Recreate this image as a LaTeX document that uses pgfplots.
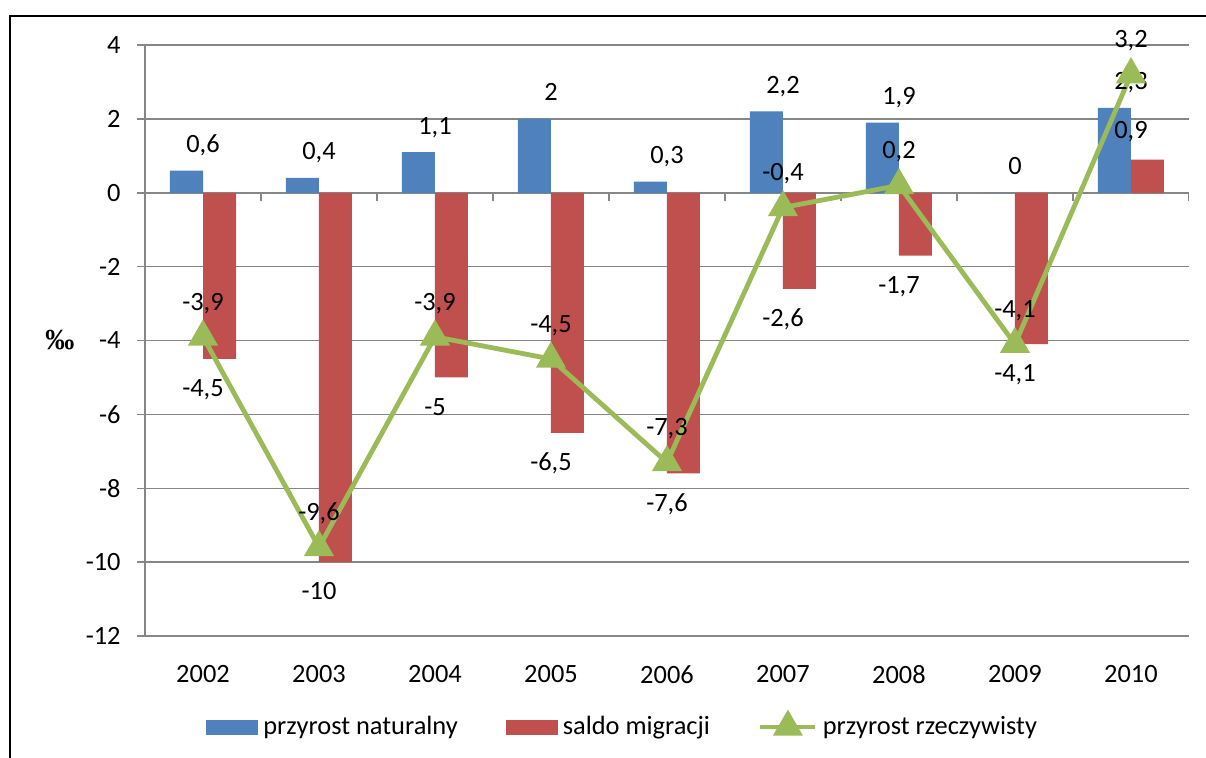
\documentclass[border=0pt]{standalone}
\usepackage{fontspec}
\setmainfont{Carlito}
\newfontfamily\permilfont{Liberation Serif}
\usepackage{pgfplots}
\pgfplotsset{compat=1.18}

\definecolor{barblue}{RGB}{79,129,189}
\definecolor{barred}{RGB}{192,80,77}
\definecolor{linegreen}{RGB}{155,187,89}
\definecolor{gridgray}{RGB}{134,134,134}

\pgfplotsset{
  barlegend/.style={legend image code/.code={\fill[##1] (0pt,-3.75pt) rectangle (26pt,3.75pt);}},
  linelegend/.style={legend image code/.code={\draw[##1, mark repeat=2, mark phase=2] plot coordinates {(0pt,0pt) (13.75pt,0pt) (27.5pt,0pt)};}},
}

\begin{document}
\begin{tikzpicture}[font=\fontsize{13.2}{15.8}\selectfont]
\useasboundingbox (0,0) rectangle (603pt,378.5pt);
% outer chart frame (cut off at right and bottom)
\draw[line width=0.8pt] (5pt,-20pt) -- (5pt,370.5pt) -- (640pt,370.5pt);
\begin{axis}[
  at={(72.5pt,60.5pt)}, anchor=south west,
  scale only axis, width=522pt, height=295.5pt,
  xmin=-0.5, xmax=8.5, ymin=-12, ymax=4,
  xtick={0,1,2,3,4,5,6,7,8},
  xticklabels={2002,2003,2004,2005,2006,2007,2008,2009,2010},
  ytick={-12,-10,-8,-6,-4,-2,0,2,4},
  axis lines*=left,
  x axis line style={draw=none},
  y axis line style={gridgray, line width=0.75pt},
  ymajorgrids,
  grid style={gridgray, line width=0.75pt},
  tick align=outside,
  major tick length=4pt,
  xtick style={draw=none},
  ytick style={gridgray, line width=0.75pt},
  /pgf/number format/.cd, use comma, 1000 sep={}, assume math mode=true,
  /pgfplots/.cd,
  xticklabel style={anchor=north, inner sep=0pt, yshift=-10.5pt},
  yticklabel style={anchor=east, inner sep=0pt, xshift=-8pt},
  ylabel={{\permilfont\bfseries\fontsize{14.5}{16}\selectfont ‰}},
  ylabel style={rotate=-90, at={(axis description cs:0,0.5)}, anchor=center, xshift=-42.5pt},
  legend columns=3,
  legend style={at={(0.0584,-0.154)}, anchor=west, draw=none, fill=none,
    inner sep=0pt, nodes={inner sep=1pt},
    /tikz/every odd column/.append style={column sep=1.5pt},
    /tikz/every even column/.append style={column sep=23pt}},
]
\addplot[ybar, bar width=16.5pt, bar shift=-8.25pt, fill=barblue, draw=none, barlegend,
  nodes near coords,
  every node near coord/.append style={inner sep=0pt, outer sep=9pt, text height=8.4pt, text depth=0pt}]
coordinates {(0,0.6) (1,0.4) (2,1.1) (3,2) (4,0.3) (5,2.2) (6,1.9) (7,0) (8,2.3)};
\addlegendentry{przyrost naturalny}
\addplot[ybar, bar width=16.5pt, bar shift=8.25pt, fill=barred, draw=none, barlegend,
  nodes near coords,
  every node near coord/.append style={inner sep=0pt, outer sep=10.5pt, text height=8.4pt, text depth=0pt}]
coordinates {(0,-4.5) (1,-10) (2,-5) (3,-6.5) (4,-7.6) (5,-2.6) (6,-1.7) (7,-4.1) (8,0.9)};
\addlegendentry{saldo migracji}
% boundary ticks on the zero line
\pgfplotsinvokeforeach{-0.5,0.5,1.5,2.5,3.5,4.5,5.5,6.5,7.5,8.5}{
  \draw[gridgray, line width=0.75pt] (axis cs:#1,0) -- ++(0pt,-4pt);
}
\addplot[linegreen, line width=2.4pt, mark=triangle*, mark size=6.3pt,
  mark options={solid}, linelegend,
  nodes near coords,
  every node near coord/.append style={black, anchor=center, yshift=17.5pt, inner sep=0pt, text height=8.4pt, text depth=0pt}]
coordinates {(0,-3.9) (1,-9.6) (2,-3.9) (3,-4.5) (4,-7.3) (5,-0.4) (6,0.2) (7,-4.1) (8,3.2)};
\addlegendentry{przyrost rzeczywisty}
\end{axis}
\end{tikzpicture}
\end{document}
